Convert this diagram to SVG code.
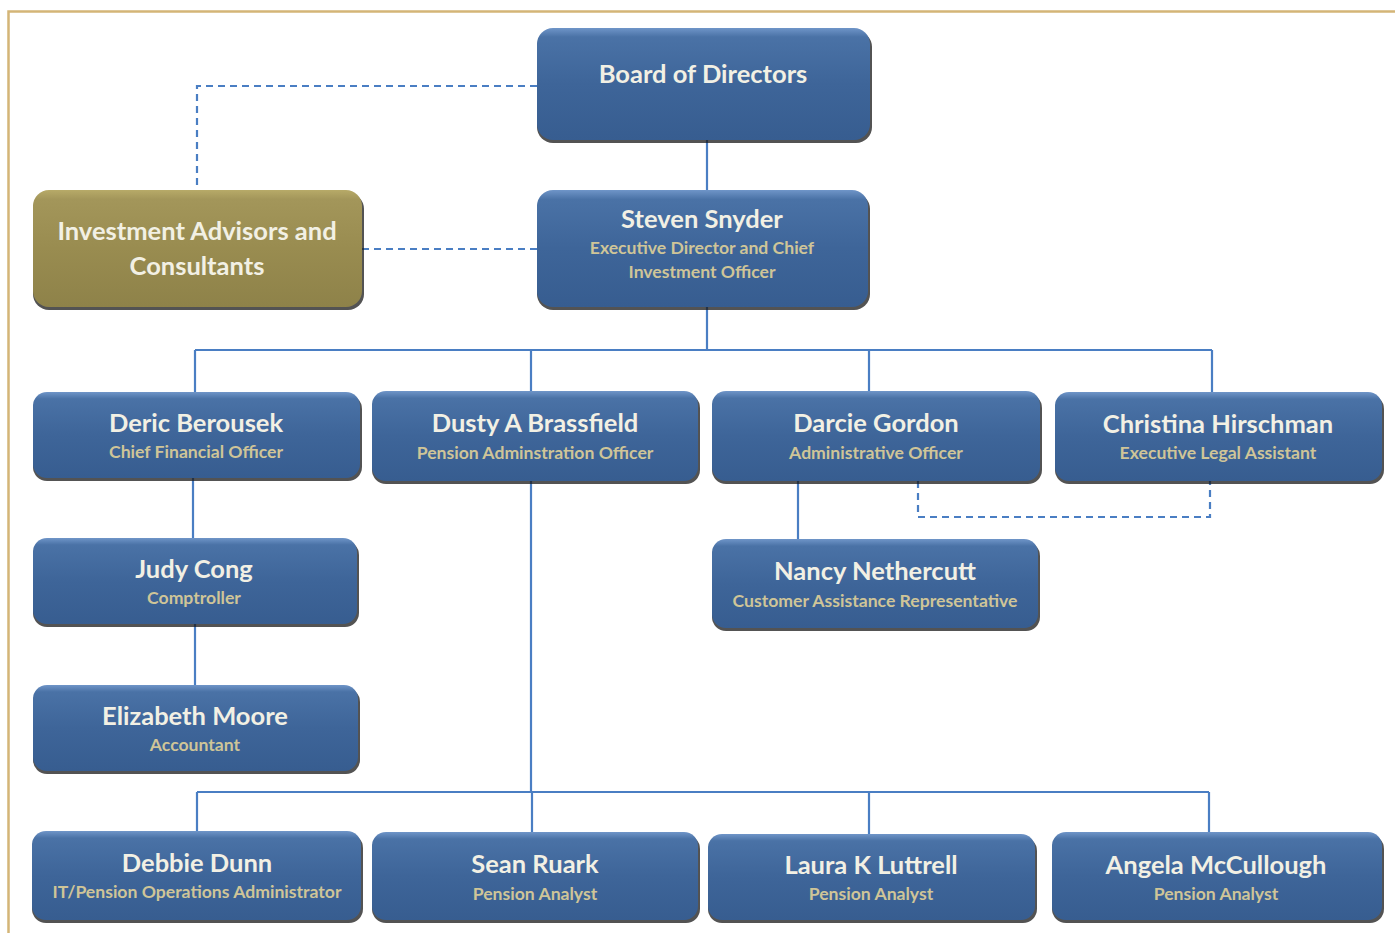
<svg xmlns="http://www.w3.org/2000/svg" width="1395" height="933" viewBox="0 0 1395 933">
<defs>
<linearGradient id="gb" x1="0" y1="0" x2="0" y2="1">
<stop offset="0" stop-color="#6F95C8"/>
<stop offset="0.08" stop-color="#4A72A6"/>
<stop offset="0.5" stop-color="#3E6599"/>
<stop offset="1" stop-color="#375D90"/>
</linearGradient>
<linearGradient id="gg" x1="0" y1="0" x2="0" y2="1">
<stop offset="0" stop-color="#B7AA68"/>
<stop offset="0.08" stop-color="#A3965A"/>
<stop offset="0.5" stop-color="#998C50"/>
<stop offset="1" stop-color="#8E8249"/>
</linearGradient>
</defs>
<style>
.box{fill:url(#gb);}
.gold{fill:url(#gg);}
.sh{fill:#1a1a1a;opacity:0.75;}
.nm{font-family:Lato,"Open Sans","Liberation Sans",sans-serif;font-weight:bold;font-size:25.5px;fill:#F2F0E4;text-anchor:middle;}
.tt{font-family:Lato,"Open Sans","Liberation Sans",sans-serif;font-weight:bold;font-size:17.6px;fill:#CFC598;text-anchor:middle;}
.ln{stroke:#4A7EC3;stroke-width:2.2;fill:none;}
.ds{stroke:#4A7EC3;stroke-width:2.2;fill:none;stroke-dasharray:7,5;}
</style>
<rect width="1395" height="933" fill="#ffffff"/>
<path d="M8.5,933 V11.5 H1395" fill="none" stroke="#D4B577" stroke-width="2.5"/>
<g id="connectors">
<path class="ln" d="M707,140 V190"/>
<path class="ln" d="M707,307 V350 M195,350 H1212 M195,350 V392 M531,350 V391 M869,350 V391 M1212,350 V392"/>
<path class="ln" d="M193,478 V538"/>
<path class="ln" d="M195,624 V685"/>
<path class="ln" d="M531,481 V792 M197,792 H1209 M197,792 V831 M532,792 V832 M869,792 V834 M1209,792 V832"/>
<path class="ln" d="M798,481 V539"/>
<path class="ds" d="M537,86 H197 V190"/>
<path class="ds" d="M362,249 H537"/>
<path class="ds" d="M918,481 V517 H1210 V481"/>
</g>
<g id="board">
<rect class="sh" x="537" y="31" width="335" height="112" rx="16"/>
<rect class="box" x="537" y="28" width="333" height="112" rx="16"/>
<text class="nm" x="703" y="83">Board of Directors</text>
</g>
<g id="investment">
<rect class="sh" x="33" y="193" width="331" height="117" rx="16"/>
<rect class="gold" x="33" y="190" width="329" height="117" rx="16"/>
<text class="nm" x="197" y="240">Investment Advisors and</text>
<text class="nm" x="197" y="275">Consultants</text>
</g>
<g id="steven">
<rect class="sh" x="537" y="193" width="333" height="117" rx="16"/>
<rect class="box" x="537" y="190" width="331" height="117" rx="16"/>
<text class="nm" x="702" y="228">Steven Snyder</text>
<text class="tt" x="702" y="254">Executive Director and Chief</text>
<text class="tt" x="702" y="278">Investment Officer</text>
</g>
<g id="deric">
<rect class="sh" x="33" y="395" width="329" height="86" rx="14"/>
<rect class="box" x="33" y="392" width="327" height="86" rx="14"/>
<text class="nm" x="196" y="432">Deric Berousek</text>
<text class="tt" x="196" y="458">Chief Financial Officer</text>
</g>
<g id="dusty">
<rect class="sh" x="372" y="394" width="328" height="90" rx="14"/>
<rect class="box" x="372" y="391" width="326" height="90" rx="14"/>
<text class="nm" x="535" y="432">Dusty A Brassfield</text>
<text class="tt" x="535" y="459">Pension Adminstration Officer</text>
</g>
<g id="darcie">
<rect class="sh" x="712" y="394" width="330" height="90" rx="14"/>
<rect class="box" x="712" y="391" width="328" height="90" rx="14"/>
<text class="nm" x="876" y="432">Darcie Gordon</text>
<text class="tt" x="876" y="459">Administrative Officer</text>
</g>
<g id="christina">
<rect class="sh" x="1055" y="395" width="329" height="89" rx="14"/>
<rect class="box" x="1055" y="392" width="327" height="89" rx="14"/>
<text class="nm" x="1218" y="433">Christina Hirschman</text>
<text class="tt" x="1218" y="459">Executive Legal Assistant</text>
</g>
<g id="judy">
<rect class="sh" x="33" y="541" width="326" height="86" rx="14"/>
<rect class="box" x="33" y="538" width="324" height="86" rx="14"/>
<text class="nm" x="194" y="578">Judy Cong</text>
<text class="tt" x="194" y="604">Comptroller</text>
</g>
<g id="nancy">
<rect class="sh" x="712" y="542" width="328" height="89" rx="14"/>
<rect class="box" x="712" y="539" width="326" height="89" rx="14"/>
<text class="nm" x="875" y="580">Nancy Nethercutt</text>
<text class="tt" x="875" y="607">Customer Assistance Representative</text>
</g>
<g id="elizabeth">
<rect class="sh" x="33" y="688" width="327" height="86" rx="14"/>
<rect class="box" x="33" y="685" width="325" height="86" rx="14"/>
<text class="nm" x="195" y="725">Elizabeth Moore</text>
<text class="tt" x="195" y="751">Accountant</text>
</g>
<g id="debbie">
<rect class="sh" x="32" y="834" width="331" height="89" rx="14"/>
<rect class="box" x="32" y="831" width="329" height="89" rx="14"/>
<text class="nm" x="197" y="872">Debbie Dunn</text>
<text class="tt" x="197" y="898">IT/Pension Operations Administrator</text>
</g>
<g id="sean">
<rect class="sh" x="372" y="835" width="328" height="88" rx="14"/>
<rect class="box" x="372" y="832" width="326" height="88" rx="14"/>
<text class="nm" x="535" y="873">Sean Ruark</text>
<text class="tt" x="535" y="900">Pension Analyst</text>
</g>
<g id="laura">
<rect class="sh" x="708" y="837" width="329" height="86" rx="14"/>
<rect class="box" x="708" y="834" width="327" height="86" rx="14"/>
<text class="nm" x="871" y="874">Laura K Luttrell</text>
<text class="tt" x="871" y="900">Pension Analyst</text>
</g>
<g id="angela">
<rect class="sh" x="1052" y="835" width="332" height="88" rx="14"/>
<rect class="box" x="1052" y="832" width="330" height="88" rx="14"/>
<text class="nm" x="1216" y="874">Angela McCullough</text>
<text class="tt" x="1216" y="900">Pension Analyst</text>
</g>
</svg>
